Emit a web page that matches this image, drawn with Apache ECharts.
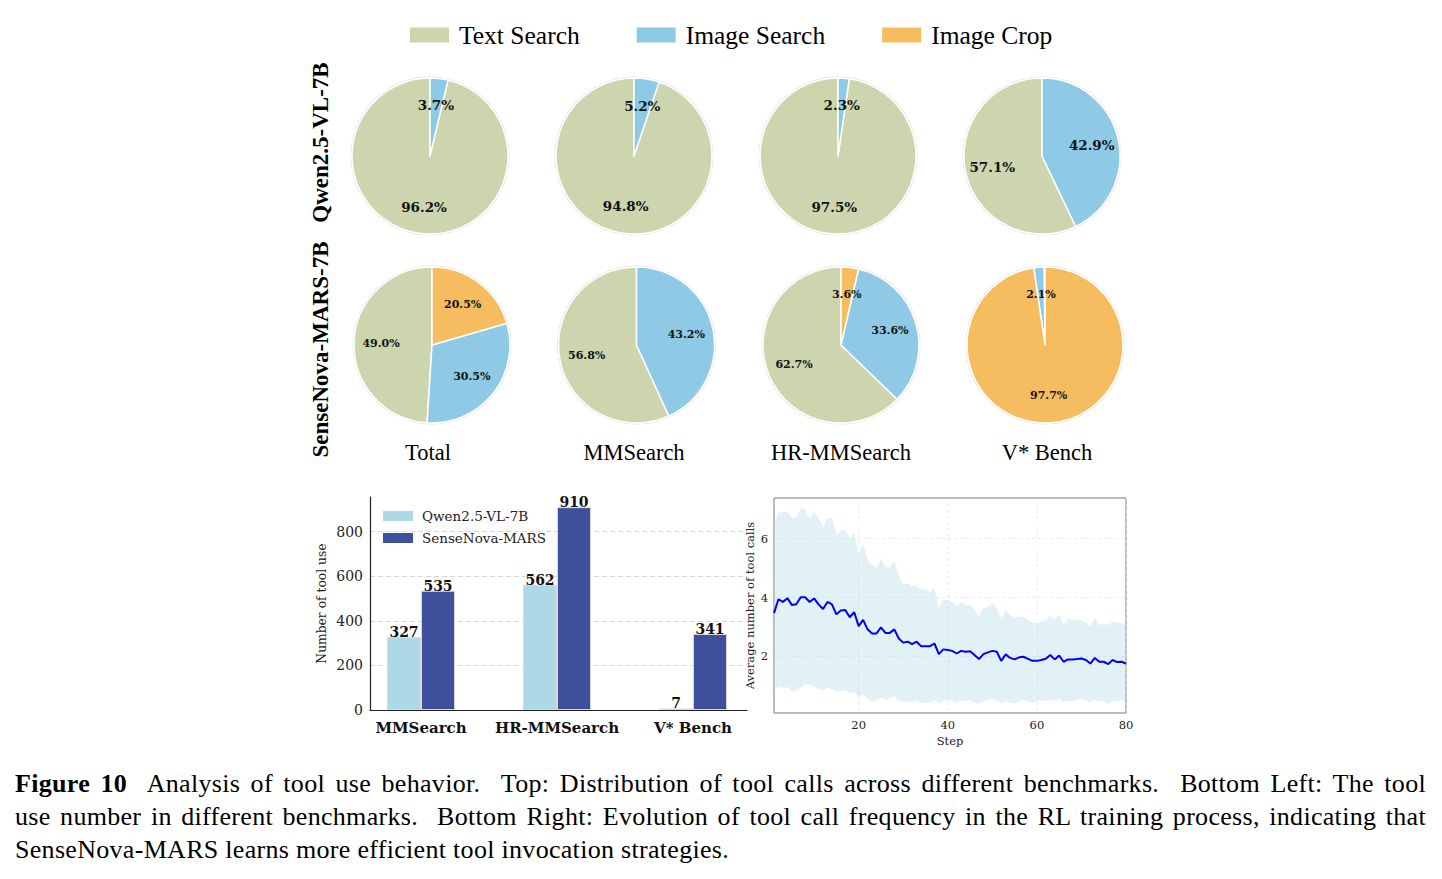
<!DOCTYPE html>
<html>
<head>
<meta charset="utf-8">
<script src="https://cdn.jsdelivr.net/npm/echarts@6/dist/echarts.min.js"></script>
<style>
  html, body { margin: 0; padding: 0; background: #fff; }
  #chart { position: absolute; left: 0; top: 0; width: 1442px; height: 879px; }
  .cap { position: absolute; left: 15px; width: 1411px; font-family: 'Liberation Serif', 'Times New Roman', serif;
         font-size: 26px; letter-spacing: 0.3px; line-height: 33px; color: #000; white-space: pre; }
  .cap span { white-space: pre; }
</style>
</head>
<body>
<div id="chart"></div>
<div class="cap" id="cap1" style="top:767px"><span><b>Figure 10</b>  Analysis of tool use behavior.  Top: Distribution of tool calls across different benchmarks.  Bottom Left: The tool</span></div>
<div class="cap" id="cap2" style="top:800px"><span>use number in different benchmarks.  Bottom Right: Evolution of tool call frequency in the RL training process, indicating that</span></div>
<div class="cap" id="cap3" style="top:833px"><span>SenseNova-MARS learns more efficient tool invocation strategies.</span></div>
<script>
// ---------------- DATA ----------------
const toolNames = ['Text Search', 'Image Search', 'Image Crop'];
const benchmarks = ['Total', 'MMSearch', 'HR-MMSearch', 'V* Bench'];
const rowLabels = ['Qwen2.5-VL-7B', 'SenseNova-MARS-7B'];

const qwenText  = [96.2, 94.8, 97.5, 57.1];
const qwenImage = [3.7, 5.2, 2.3, 42.9];
const qwenCrop  = [0, 0, 0, 0];
const marsText  = [49.0, 56.8, 62.7, 0.2];
const marsImage = [30.5, 43.2, 33.6, 2.1];
const marsCrop  = [20.5, 0, 3.6, 97.7];

const barCategories = ['MMSearch', 'HR-MMSearch', 'V* Bench'];
const barSeriesNames = ['Qwen2.5-VL-7B', 'SenseNova-MARS'];
const qwenCalls = [327, 562, 7];
const marsCalls = [535, 910, 341];
const barTicks = [0, 200, 400, 600, 800];

const lineMean = [3.47, 3.94, 3.85, 3.98, 3.75, 3.77, 4.01, 4.01, 3.85, 3.97,
  3.77, 3.61, 3.85, 3.77, 3.43, 3.56, 3.58, 3.33, 3.50, 3.03,
  3.24, 2.92, 2.78, 2.78, 2.99, 2.80, 2.80, 2.92, 2.61, 2.47,
  2.50, 2.42, 2.50, 2.35, 2.35, 2.35, 2.44, 2.08, 2.24, 2.22,
  2.19, 2.10, 2.19, 2.16, 2.18, 2.05, 1.91, 2.08, 2.14, 2.19,
  2.16, 1.85, 2.07, 1.95, 1.90, 1.97, 1.99, 1.92, 1.85, 1.85,
  1.88, 1.92, 2.05, 1.90, 2.03, 1.82, 1.90, 1.90, 1.91, 1.93,
  1.88, 1.76, 1.95, 1.82, 1.82, 1.74, 1.88, 1.81, 1.82, 1.76];
const lineUpper = [6.50, 6.88, 6.90, 6.93, 6.70, 6.70, 7.05, 6.99, 6.67, 6.93,
  6.70, 6.36, 6.70, 6.70, 6.14, 6.25, 6.33, 6.02, 6.19, 5.45,
  5.80, 5.28, 5.11, 5.00, 5.34, 5.03, 5.03, 5.23, 4.77, 4.43,
  4.49, 4.38, 4.40, 4.28, 4.28, 4.20, 4.32, 3.64, 3.92, 3.92,
  3.86, 3.72, 3.86, 3.75, 3.75, 3.58, 3.35, 3.64, 3.69, 3.81,
  3.64, 3.30, 3.58, 3.41, 3.32, 3.35, 3.35, 3.24, 3.15, 3.13,
  3.18, 3.24, 3.38, 3.24, 3.44, 3.07, 3.30, 3.24, 3.26, 3.22,
  3.15, 3.03, 3.32, 3.07, 3.10, 3.07, 3.18, 3.15, 3.13, 3.07];
const lineLower = [0.85, 0.99, 0.91, 0.97, 0.80, 0.85, 0.94, 1.06, 1.05, 0.97,
  0.88, 0.85, 0.94, 0.89, 0.80, 0.83, 0.85, 0.74, 0.80, 0.63,
  0.72, 0.57, 0.45, 0.53, 0.60, 0.53, 0.57, 0.65, 0.51, 0.45,
  0.49, 0.44, 0.51, 0.42, 0.44, 0.45, 0.51, 0.40, 0.49, 0.53,
  0.51, 0.44, 0.51, 0.49, 0.51, 0.44, 0.40, 0.49, 0.53, 0.56,
  0.51, 0.40, 0.49, 0.44, 0.40, 0.49, 0.51, 0.47, 0.44, 0.49,
  0.51, 0.49, 0.53, 0.49, 0.57, 0.44, 0.49, 0.49, 0.51, 0.56,
  0.49, 0.44, 0.53, 0.47, 0.49, 0.40, 0.47, 0.49, 0.51, 0.49];
const lineXTicks = [20, 40, 60, 80];
const lineYTicks = [2, 4, 6];

// ---------------- STYLE / LAYOUT ----------------
const toolColors = ['#ccd5ae', '#8ecae6', '#f6bd60'];
const barColors = ['#add8e6', '#3e509b'];
const SERIF = "'Liberation Serif', 'Times New Roman', serif";
const DJV = "'DejaVu Serif', serif";

const pieCentersX = [[430, 634, 838, 1042], [432, 636.5, 841, 1045]];
const pieCentersY = [156, 345];
const colLabelX = [428, 634, 841, 1047];
const pieR = 78;
const pieLabelSize = [13.5, 11];

const rows = [[qwenText, qwenImage, qwenCrop], [marsText, marsImage, marsCrop]];

const mainPies = [], overlayPies = [], ringPies = [];
rows.forEach((arrs, r) => {
  benchmarks.forEach((b, c) => {
    const data = [];
    toolNames.forEach((n, k) => {
      const v = arrs[k][c];
      if (v > 0) data.push({ name: n, value: v, itemStyle: { color: toolColors[k] } });
    });
    const center = [pieCentersX[r][c], pieCentersY[r]];
    mainPies.push({
      type: 'pie', center, radius: [0, pieR], startAngle: 90, clockwise: false,
      silent: true, animation: false, label: { show: false }, labelLine: { show: false },
      itemStyle: { borderColor: '#ffffff', borderWidth: 1.5 },
      emphasis: { disabled: true }, data, z: 2
    });
    overlayPies.push({
      type: 'pie', center, radius: [18, pieR], startAngle: 90, clockwise: false,
      silent: true, animation: false, labelLine: { show: false },
      itemStyle: { color: 'rgba(0,0,0,0)', borderWidth: 0 },
      emphasis: { disabled: true },
      label: {
        show: true, position: 'inside', fontFamily: DJV, fontWeight: 'bold',
        fontSize: pieLabelSize[r], color: '#111',
        formatter: p => (p.value >= 1 ? p.value.toFixed(1) + '%' : '')
      },
      data: data.map(d => ({ name: d.name, value: d.value })), z: 4
    });
    ringPies.push({
      type: 'pie', center, radius: [pieR + 0.6, pieR + 1.4], silent: true, animation: false,
      label: { show: false }, labelLine: { show: false }, emphasis: { disabled: true },
      itemStyle: { color: '#e2e2e2', borderWidth: 0 },
      data: [{ name: 'ring', value: 1 }], z: 1
    });
  });
});

const steps = lineMean.map((_, i) => i + 1);

const option = {
  backgroundColor: '#ffffff',
  animation: false,
  color: toolColors,
  legend: [
    {
      data: toolNames, left: 410, top: 22, padding: 0, itemGap: 57,
      itemWidth: 39, itemHeight: 15, icon: 'rect', selectedMode: false,
      itemStyle: { borderWidth: 0 },
      textStyle: { fontFamily: SERIF, fontSize: 25.5, color: '#000', lineHeight: 26, padding: [0, 0, 0, 5] }
    },
    {
      data: barSeriesNames, left: 383, top: 509, padding: 0, orient: 'vertical', itemGap: 8,
      itemWidth: 30, itemHeight: 10, icon: 'rect', selectedMode: false,
      itemStyle: { borderWidth: 0 },
      textStyle: { fontFamily: DJV, fontSize: 13.5, color: '#222', lineHeight: 14, padding: [0, 0, 0, 4] }
    }
  ],
  grid: [
    { left: 353, top: 497, width: 408, height: 213 },   // bars
    { left: 370, top: 497, width: 377, height: 213 },   // bar spines
    { left: 774, top: 498, width: 352, height: 215, show: true, borderColor: '#7a7a7a', borderWidth: 1 }
  ],
  xAxis: [
    {
      gridIndex: 0, type: 'category', data: barCategories,
      axisLine: { show: false }, axisTick: { show: false },
      axisLabel: { interval: 0, fontFamily: DJV, fontWeight: 'bold', fontSize: 15, color: '#111', margin: 10 }
    },
    {
      gridIndex: 1, type: 'value', min: 0, max: 1,
      axisLine: { show: true, lineStyle: { color: '#222', width: 1.2 } },
      axisTick: { show: false }, axisLabel: { show: false }, splitLine: { show: false }
    },
    {
      gridIndex: 2, type: 'value', min: 1, max: 80,
      name: 'Step', nameLocation: 'middle', nameGap: 22,
      nameTextStyle: { fontFamily: DJV, fontSize: 11.5, color: '#222' },
      axisLine: { show: false }, axisTick: { show: false, customValues: lineXTicks },
      axisLabel: { customValues: lineXTicks, fontFamily: DJV, fontSize: 11.5, color: '#222', margin: 6 },
      splitLine: { show: true, lineStyle: { color: '#e6e6e6', type: [3, 3], width: 0.8 } }
    }
  ],
  yAxis: [
    { gridIndex: 0, type: 'value', min: 0, max: 955.5, show: false, splitLine: { show: false } },
    {
      gridIndex: 1, type: 'value', min: 0, max: 955.5,
      name: 'Number of tool use', nameLocation: 'middle', nameGap: 42, nameRotate: 90,
      nameTextStyle: { fontFamily: DJV, fontSize: 12.3, color: '#222' },
      axisLine: { show: true, lineStyle: { color: '#222', width: 1.2 } },
      axisTick: { show: false, customValues: barTicks },
      axisLabel: { customValues: barTicks, fontFamily: DJV, fontSize: 14, color: '#222', margin: 7 },
      splitLine: { show: true, lineStyle: { color: '#d6d6d6', type: [5, 3], width: 1 } }
    },
    {
      gridIndex: 2, type: 'value', min: 0.08, max: 7.38,
      name: 'Average number of tool calls', nameLocation: 'middle', nameGap: 18, nameRotate: 90,
      nameTextStyle: { fontFamily: DJV, fontSize: 11.5, color: '#222' },
      axisLine: { show: false }, axisTick: { show: false, customValues: lineYTicks },
      axisLabel: { customValues: lineYTicks, fontFamily: DJV, fontSize: 11.5, color: '#222', margin: 6 },
      splitLine: { show: true, lineStyle: { color: '#e6e6e6', type: [3, 3], width: 0.8 } }
    }
  ],
  graphic: [
    { type: 'text', x: 320, y: 142.5, rotation: Math.PI / 2,
      style: { text: rowLabels[0], textAlign: 'center', textVerticalAlign: 'middle',
               font: 'bold 23px ' + SERIF, fill: '#000' } },
    { type: 'text', x: 320, y: 349.5, rotation: Math.PI / 2,
      style: { text: rowLabels[1], textAlign: 'center', textVerticalAlign: 'middle',
               font: 'bold 23px ' + SERIF, fill: '#000' } }
  ].concat(benchmarks.map((b, c) => ({
      type: 'text', x: colLabelX[c], y: 452,
      style: { text: b, textAlign: 'center', textVerticalAlign: 'middle',
               font: '22.5px ' + SERIF, fill: '#000' }
  }))),
  series: [].concat(mainPies, overlayPies, ringPies, [
    {
      name: barSeriesNames[0], type: 'bar', xAxisIndex: 0, yAxisIndex: 0, data: qwenCalls,
      barWidth: 34, barGap: '0%', silent: true,
      itemStyle: { color: barColors[0], borderColor: '#d9d9d9', borderWidth: 1 },
      label: { show: true, position: 'top', distance: -2, fontFamily: DJV, fontWeight: 'bold', fontSize: 14, color: '#111' }
    },
    {
      name: barSeriesNames[1], type: 'bar', xAxisIndex: 0, yAxisIndex: 0, data: marsCalls,
      barWidth: 34, barGap: '0%', silent: true,
      itemStyle: { color: barColors[1], borderColor: '#d9d9d9', borderWidth: 1 },
      label: { show: true, position: 'top', distance: -2, fontFamily: DJV, fontWeight: 'bold', fontSize: 14, color: '#111' }
    },
    {
      name: 'band', type: 'custom', xAxisIndex: 2, yAxisIndex: 2, silent: true, z: 3,
      data: steps.map((s, i) => [s, lineLower[i], lineUpper[i]]),
      encode: { x: 0, y: [1, 2] },
      renderItem: function (params, api) {
        if (params.dataIndex !== 0) return null;
        const up = steps.map((s, i) => api.coord([s, lineUpper[i]]));
        const lo = steps.map((s, i) => api.coord([s, lineLower[i]])).reverse();
        return { type: 'polygon', shape: { points: up.concat(lo) },
                 style: { fill: 'rgba(173,216,230,0.35)', stroke: 'none' } };
      }
    },
    {
      name: 'mean', type: 'line', xAxisIndex: 2, yAxisIndex: 2,
      data: steps.map((s, i) => [s, lineMean[i]]), showSymbol: false, silent: true,
      lineStyle: { color: '#0000ff', width: 2 }, z: 5
    }
  ])
};

const chart = echarts.init(document.getElementById('chart'), null, { renderer: 'svg', width: 1442, height: 879 });
chart.setOption(option);

// justify caption lines 1 and 2
['cap1', 'cap2'].forEach(id => {
  const span = document.querySelector('#' + id + ' span');
  const w = span.getBoundingClientRect().width;
  const spaces = (span.textContent.match(/ /g) || []).length;
  span.style.wordSpacing = ((1411 - w) / spaces) + 'px';
});
</script>
</body>
</html>
